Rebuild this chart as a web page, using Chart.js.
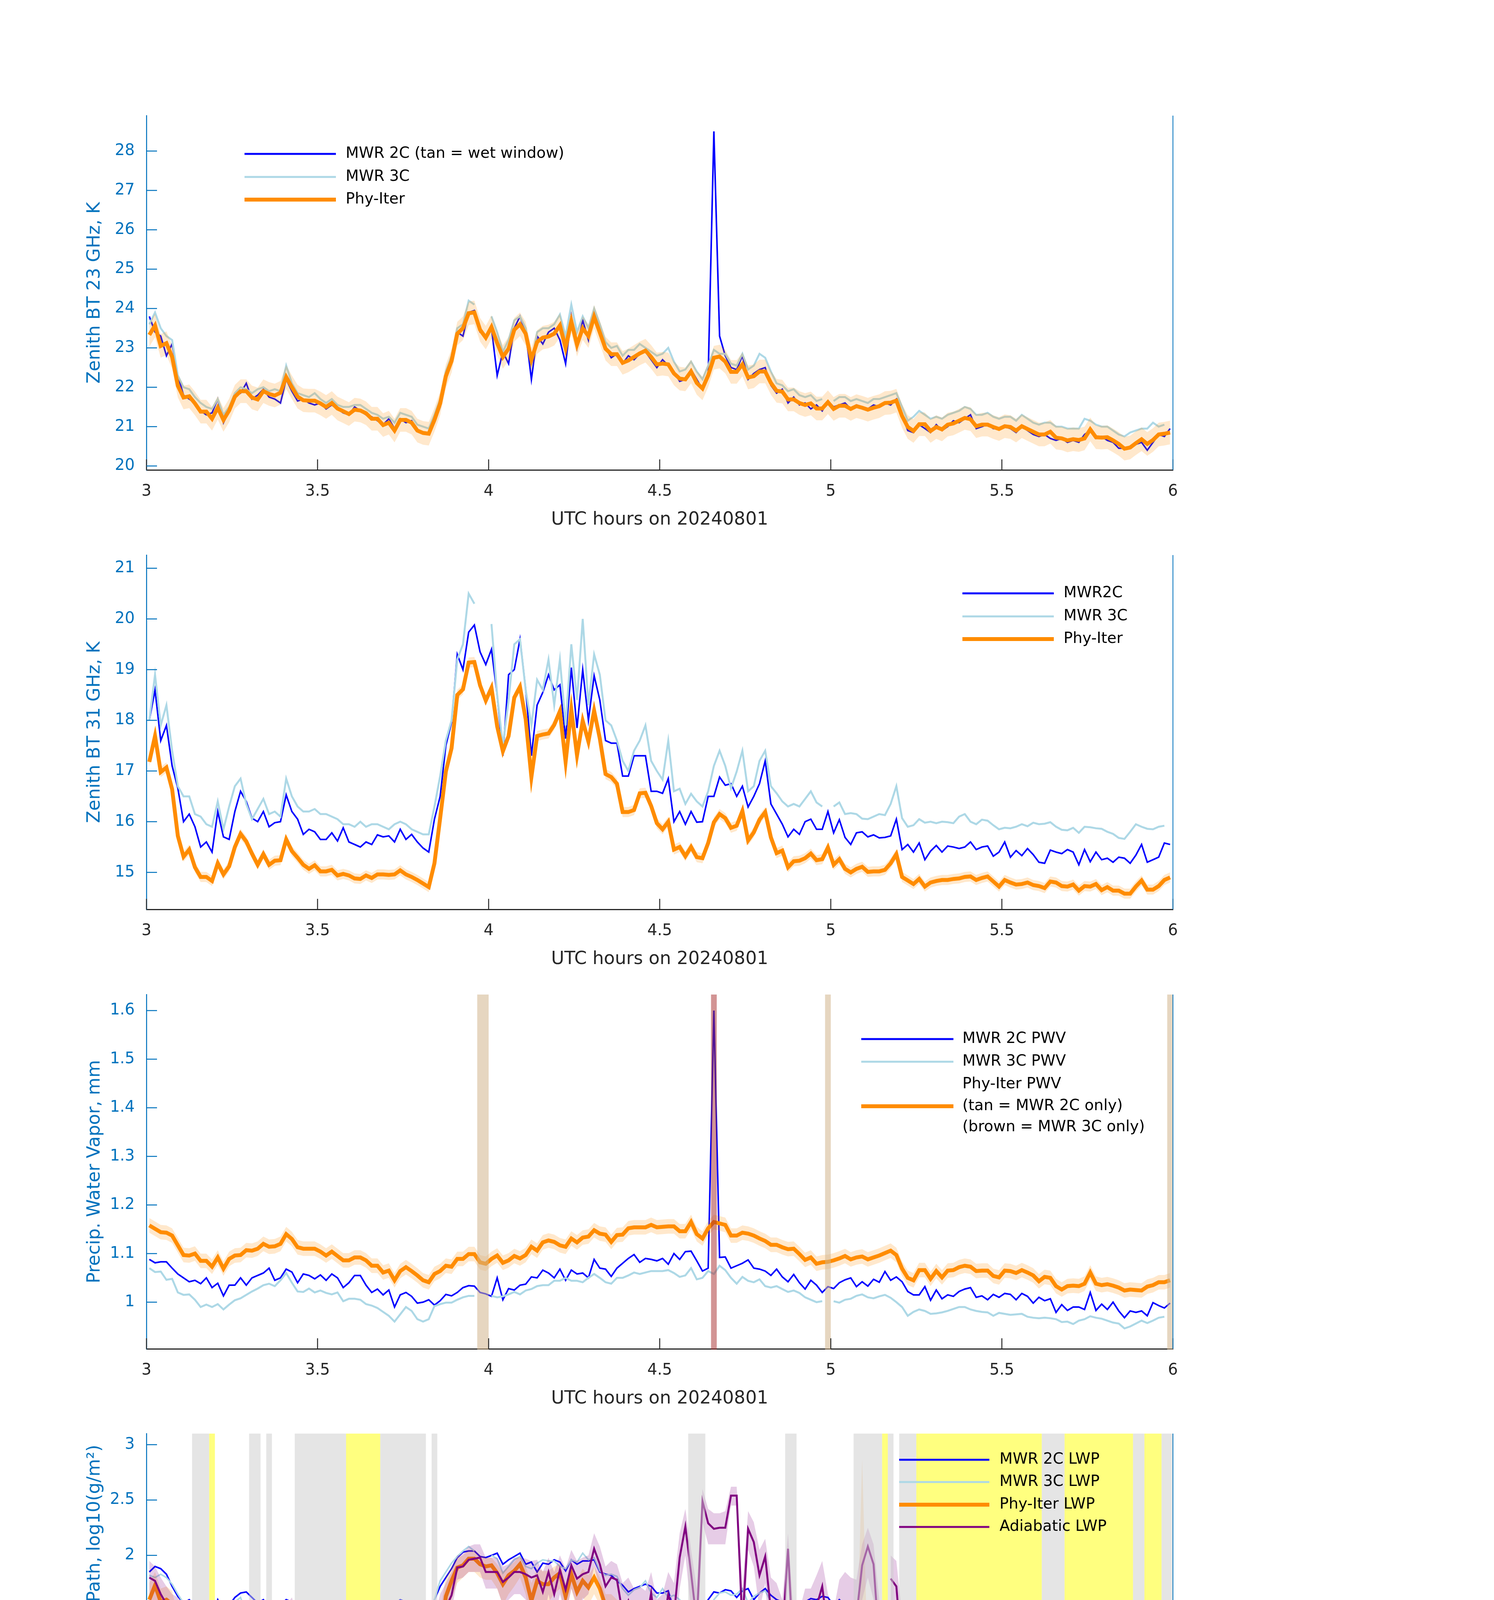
<!DOCTYPE html>
<html>
<head>
<meta charset="utf-8">
<script src="https://cdn.jsdelivr.net/npm/chart.js@4.4.1/dist/chart.umd.min.js"></script>
<style>
  body { margin: 0; background: #fff; width: 3825px; height: 6000px; position: relative; overflow: hidden; }
  canvas { position: absolute; left: 0; }
</style>
</head>
<body>
<canvas id="bt23" width="3825" height="1160" style="top:200px"></canvas>
<canvas id="bt31" width="3825" height="1160" style="top:1325px"></canvas>
<canvas id="pwv" width="3825" height="1160" style="top:2450px"></canvas>
<canvas id="lwp" width="3825" height="1160" style="top:3574px"></canvas>
<canvas id="dq" width="3825" height="1160" style="top:4700px"></canvas>
<script>
// one sample per minute, stamped at the middle of the minute
const minuteTimes = [];
for (let i = 0; i < 180; i++) minuteTimes.push(3 + (i + 0.5) / 60);

const xTickValues = [3, 3.5, 4, 4.5, 5, 5.5, 6];
const xTickLabels = ['3', '3.5', '4', '4.5', '5', '5.5', '6'];

// ---- 23 GHz brightness temperature, K
const bt23Ticks = [20, 21, 22, 23, 24, 25, 26, 27, 28];
const bt23TickLabels = ['20', '21', '22', '23', '24', '25', '26', '27', '28'];
const bt23Unc = 0.3;
const bt23Phy = [23.33,23.57,23.05,23.12,22.77,22.04,21.74,21.77,21.59,21.38,
  21.38,21.2,21.48,21.17,21.41,21.76,21.9,21.9,21.74,21.69,
  21.9,21.83,21.79,21.86,22.26,22.0,21.76,21.67,21.66,21.66,
  21.59,21.5,21.6,21.46,21.39,21.32,21.43,21.41,21.34,21.2,
  21.2,21.04,21.1,20.9,21.17,21.17,21.1,20.9,20.84,20.82,
  21.17,21.59,22.28,22.67,23.36,23.5,23.88,23.9,23.46,23.26,
  23.53,23.12,22.77,22.98,23.46,23.6,23.36,22.7,23.15,23.26,
  23.29,23.36,23.57,23.0,23.67,23.08,23.5,23.3,23.79,23.39,
  22.98,22.84,22.84,22.62,22.68,22.77,22.86,22.93,22.77,22.58,
  22.6,22.58,22.35,22.22,22.2,22.4,22.11,21.97,22.3,22.75,
  22.78,22.65,22.39,22.39,22.58,22.25,22.28,22.4,22.4,22.11,
  21.91,21.89,21.69,21.69,21.6,21.55,21.59,21.46,21.46,21.62,
  21.45,21.53,21.53,21.45,21.52,21.48,21.43,21.48,21.52,21.6,
  21.61,21.66,21.27,20.99,20.89,21.06,21.06,20.89,20.99,20.93,
  21.05,21.08,21.15,21.22,21.19,21.01,21.05,21.05,20.99,20.94,
  21.01,20.99,20.9,21.01,20.94,20.87,20.8,20.8,20.87,20.72,
  20.7,20.65,20.68,20.66,20.7,20.93,20.73,20.72,20.73,20.65,
  20.56,20.44,20.47,20.58,20.68,20.56,20.66,20.8,20.82,20.85];
const bt23Mwr2c = [23.8,23.4,23.3,22.8,23.1,22.3,21.8,21.7,21.6,21.4,
  21.3,21.35,21.7,21.1,21.4,21.8,21.85,22.1,21.7,21.8,
  21.95,21.75,21.7,21.6,22.2,21.9,21.65,21.7,21.6,21.55,
  21.6,21.45,21.55,21.45,21.35,21.3,21.5,21.4,21.3,21.25,
  21.15,21.05,21.2,20.95,21.2,21.1,21.15,20.9,20.85,20.85,
  21.1,21.5,22.3,22.6,23.4,23.3,23.9,23.95,23.4,23.3,
  23.5,22.3,22.9,22.6,23.5,23.8,23.4,22.2,23.3,23.1,
  23.4,23.5,23.2,22.6,23.8,23.0,23.7,23.2,23.9,23.6,
  23.0,22.75,22.85,22.6,22.8,22.7,22.85,22.9,22.7,22.5,
  22.7,22.55,22.4,22.15,22.2,22.45,22.2,21.95,22.3,28.5,
  23.3,22.8,22.5,22.45,22.8,22.2,22.35,22.45,22.5,22.05,
  21.85,21.95,21.6,21.75,21.55,21.6,21.45,21.55,21.4,21.65,
  21.5,21.55,21.6,21.45,21.55,21.5,21.45,21.55,21.5,21.6,
  21.55,21.7,21.3,20.9,20.85,21.05,20.95,20.85,21.05,20.9,
  21.0,21.15,21.1,21.2,21.3,20.95,21.0,21.05,20.95,20.95,
  21.0,20.95,20.85,21.0,20.9,20.8,20.75,20.8,20.7,20.65,
  20.7,20.6,20.65,20.6,20.8,20.9,20.7,20.75,20.65,20.6,
  20.45,20.45,20.5,20.55,20.6,20.4,20.6,20.8,20.75,20.95];
const bt23Mwr3c = [23.6,23.9,23.5,23.3,23.2,22.3,22.0,21.95,21.75,21.6,
  21.5,21.45,21.7,21.3,21.5,21.85,22.0,21.95,21.85,21.95,
  22.0,21.9,21.95,21.9,22.55,22.1,21.85,21.8,21.75,21.85,
  21.7,21.6,21.7,21.55,21.5,21.5,21.55,21.55,21.45,21.35,
  21.3,21.2,21.25,21.1,21.35,21.3,21.25,21.05,21.0,20.95,
  21.3,21.7,22.4,22.8,23.5,23.6,24.2,24.1,null,null,
  23.8,23.4,22.9,23.2,23.7,23.8,23.5,22.6,23.4,23.5,
  23.5,23.6,23.85,23.3,24.1,23.4,23.8,23.5,24.0,23.6,
  23.15,23.0,23.05,22.8,22.95,22.95,23.1,23.0,22.9,22.8,
  22.85,23.0,22.65,22.4,22.45,22.65,22.4,22.2,22.55,22.95,
  22.85,22.85,22.6,22.55,22.85,22.45,22.55,22.85,22.75,22.4,
  22.1,22.05,21.9,21.95,21.8,21.75,21.8,21.65,21.7,null,
  21.65,21.75,21.75,21.65,21.7,21.65,21.6,21.7,21.7,21.75,
  21.8,21.85,21.5,21.15,21.25,21.4,21.3,21.2,21.25,21.2,
  21.3,21.35,21.4,21.5,21.45,21.3,21.3,21.35,21.25,21.2,
  21.25,21.25,21.15,21.3,21.2,21.1,21.05,21.1,21.1,21.0,
  21.0,20.95,20.95,20.95,21.2,21.15,21.05,21.0,21.0,20.9,
  20.8,20.75,20.85,20.9,20.95,20.95,21.1,21.0,21.05,null];

// ---- 31 GHz brightness temperature, K
const bt31Ticks = [15, 16, 17, 18, 19, 20, 21];
const bt31TickLabels = ['15', '16', '17', '18', '19', '20', '21'];
const bt31Unc = 0.1;
const bt31Phy = [17.18,17.69,16.98,17.07,16.64,15.72,15.31,15.45,15.1,14.91,
  14.91,14.83,15.18,14.96,15.12,15.5,15.76,15.61,15.37,15.15,
  15.36,15.15,15.23,15.24,15.65,15.42,15.29,15.15,15.07,15.14,
  15.02,15.02,15.05,14.94,14.97,14.94,14.88,14.87,14.94,14.89,
  14.96,14.96,14.95,14.96,15.04,14.96,14.91,14.85,14.78,14.71,
  15.18,16.07,16.99,17.45,18.5,18.61,19.14,19.15,18.69,18.39,
  18.64,17.88,17.39,17.69,18.45,18.66,18.02,16.88,17.69,17.72,
  17.74,17.91,18.18,17.18,18.21,17.31,17.99,17.58,18.19,17.64,
  16.94,16.88,16.75,16.19,16.19,16.23,16.56,16.57,16.31,15.97,
  15.85,16.0,15.45,15.5,15.32,15.5,15.3,15.28,15.58,15.99,
  16.15,16.07,15.88,15.92,16.21,15.63,15.79,16.04,16.19,15.69,
  15.38,15.43,15.1,15.22,15.23,15.28,15.37,15.24,15.26,15.49,
  15.15,15.26,15.07,15.0,15.07,15.11,15.01,15.02,15.02,15.05,
  15.18,15.36,14.91,14.84,14.77,14.87,14.72,14.8,14.83,14.85,
  14.85,14.87,14.88,14.91,14.92,14.85,14.89,14.92,14.82,14.72,
  14.85,14.8,14.76,14.77,14.8,14.75,14.73,14.69,14.82,14.8,
  14.73,14.72,14.76,14.64,14.73,14.72,14.77,14.65,14.71,14.64,
  14.64,14.58,14.58,14.72,14.84,14.66,14.66,14.73,14.85,14.9];
const bt31Mwr2c = [18.0,18.6,17.6,17.9,17.1,16.66,16.0,16.15,15.9,15.5,
  15.6,15.4,16.2,15.7,15.65,16.2,16.6,16.4,16.07,16.0,
  16.2,15.9,15.98,16.0,16.53,16.2,16.05,15.75,15.85,15.8,
  15.65,15.65,15.78,15.62,15.88,15.6,15.55,15.5,15.6,15.55,
  15.74,15.7,15.72,15.6,15.85,15.65,15.75,15.6,15.48,15.4,
  16.05,16.5,17.5,17.96,19.3,19.0,19.74,19.88,19.35,19.1,
  19.4,18.5,17.3,18.9,19.0,19.6,18.61,17.3,18.3,18.55,
  18.9,18.6,18.7,17.64,19.04,17.85,19.0,18.0,18.88,18.4,
  17.6,17.55,17.55,16.9,16.9,17.3,17.3,17.3,16.6,16.6,
  16.56,16.85,16.0,16.2,15.95,16.2,15.99,16.0,16.5,16.5,
  16.88,16.72,16.75,16.5,16.7,16.29,16.5,16.75,17.2,16.35,
  16.15,15.95,15.7,15.85,15.75,16.0,16.05,15.85,15.85,16.2,
  15.78,16.04,15.69,15.55,15.78,15.8,15.7,15.74,15.68,15.69,
  15.72,16.05,15.45,15.55,15.4,15.58,15.25,15.42,15.53,15.4,
  15.52,15.5,15.47,15.5,15.6,15.45,15.5,15.52,15.32,15.4,
  15.6,15.3,15.43,15.33,15.47,15.35,15.2,15.18,15.44,15.4,
  15.37,15.45,15.4,15.15,15.45,15.21,15.4,15.25,15.28,15.2,
  15.3,15.28,15.18,15.34,15.55,15.2,15.25,15.3,15.58,15.55];
const bt31Mwr3c = [18.0,18.9,17.9,18.3,17.4,16.7,16.5,16.5,16.15,16.1,
  15.95,15.9,16.4,15.85,16.3,16.7,16.85,16.35,16.05,16.25,
  16.45,16.15,16.2,16.1,16.85,16.5,16.3,16.2,16.2,16.25,
  16.15,16.15,16.1,16.05,15.95,15.95,15.9,16.0,15.9,15.95,
  15.95,15.9,15.85,15.95,16.0,15.95,15.85,15.8,15.75,15.75,
  16.3,16.9,17.6,18.0,19.2,19.5,20.5,20.3,null,null,
  19.9,18.5,17.5,18.4,19.5,19.6,18.6,17.9,18.8,18.6,
  19.2,18.3,19.2,17.9,19.5,18.4,20.0,18.3,19.3,18.9,
  18.0,17.9,17.6,17.2,17.0,17.4,17.6,17.9,17.2,17.0,
  16.83,17.6,16.6,16.65,16.35,16.55,16.4,16.3,16.6,17.1,
  17.4,17.1,16.66,16.99,17.4,16.6,16.7,17.2,17.4,16.7,
  16.56,16.4,16.3,16.35,16.3,16.45,16.6,16.38,16.3,null,
  16.3,16.38,16.15,16.17,16.15,16.06,16.05,16.1,16.15,16.13,
  16.35,16.7,16.07,15.9,15.93,16.05,15.98,16.0,15.97,16.0,
  15.99,15.97,16.1,16.15,16.0,15.95,16.04,16.02,15.93,15.85,
  15.88,15.87,15.9,15.95,15.91,15.98,15.95,15.96,15.99,15.9,
  15.84,15.83,15.88,15.78,15.9,15.89,15.87,15.86,15.8,15.76,
  15.68,15.66,15.8,15.95,15.9,15.86,15.85,15.9,15.92,null];

// ---- precipitable water vapour, mm
const pwvTicks = [1, 1.1, 1.2, 1.3, 1.4, 1.5, 1.6];
const pwvTickLabels = ['1', '1.1', '1.2', '1.3', '1.4', '1.5', '1.6'];
const pwvUnc = 0.015;
const pwvTanStart = [3.9667, 4.9833, 5.9833];
const pwvTanEnd = [4.0, 5.0, 6.0];
const pwvBrownStart = [4.65];
const pwvBrownEnd = [4.6667];
const pwvPhy = [1.158,1.151,1.144,1.143,1.137,1.117,1.097,1.096,1.1,1.085,
  1.085,1.073,1.092,1.069,1.089,1.096,1.097,1.107,1.106,1.11,
  1.12,1.114,1.115,1.12,1.14,1.13,1.113,1.11,1.11,1.11,
  1.104,1.096,1.104,1.095,1.086,1.086,1.092,1.092,1.086,1.075,
  1.075,1.061,1.065,1.045,1.064,1.072,1.064,1.055,1.045,1.041,
  1.058,1.064,1.075,1.073,1.089,1.089,1.099,1.099,1.082,1.079,
  1.089,1.096,1.081,1.086,1.095,1.09,1.097,1.114,1.106,1.123,
  1.127,1.124,1.117,1.114,1.131,1.123,1.133,1.135,1.148,1.141,
  1.139,1.124,1.138,1.139,1.152,1.154,1.154,1.154,1.159,1.154,
  1.155,1.156,1.156,1.146,1.146,1.165,1.14,1.131,1.152,1.165,
  1.162,1.159,1.137,1.137,1.143,1.141,1.137,1.131,1.126,1.118,
  1.118,1.113,1.109,1.11,1.099,1.087,1.092,1.079,1.082,1.083,
  1.086,1.09,1.095,1.088,1.092,1.094,1.088,1.092,1.096,1.101,
  1.106,1.097,1.069,1.05,1.045,1.066,1.066,1.048,1.064,1.051,
  1.065,1.066,1.072,1.075,1.073,1.064,1.065,1.065,1.054,1.051,
  1.065,1.064,1.06,1.066,1.061,1.055,1.043,1.052,1.05,1.033,
  1.026,1.033,1.034,1.033,1.038,1.061,1.038,1.035,1.037,1.034,
  1.03,1.024,1.026,1.025,1.024,1.032,1.035,1.041,1.041,1.045];
const pwvMwr2c = [1.088,1.081,1.083,1.083,1.07,1.058,1.05,1.042,1.045,1.038,
  1.05,1.03,1.039,1.013,1.035,1.035,1.05,1.035,1.05,1.055,
  1.06,1.07,1.045,1.05,1.068,1.062,1.04,1.058,1.055,1.048,
  1.056,1.045,1.058,1.05,1.03,1.04,1.055,1.055,1.035,1.02,
  1.027,1.015,1.025,0.99,1.015,1.02,1.012,0.998,1.0,1.005,
  0.994,1.003,1.016,1.013,1.02,1.03,1.034,1.033,1.02,1.017,
  1.012,1.05,1.005,1.028,1.025,1.035,1.037,1.052,1.05,1.066,
  1.06,1.05,1.068,1.045,1.066,1.058,1.06,1.05,1.088,1.07,
  1.068,1.053,1.07,1.08,1.09,1.098,1.082,1.09,1.088,1.085,
  1.09,1.078,1.1,1.088,1.104,1.105,1.085,1.064,1.07,1.6,
  1.092,1.093,1.07,1.075,1.08,1.087,1.07,1.068,1.064,1.055,
  1.068,1.052,1.042,1.057,1.04,1.027,1.045,1.035,1.02,1.032,
  1.028,1.04,1.046,1.05,1.032,1.042,1.033,1.047,1.041,1.063,
  1.045,1.052,1.042,1.022,1.015,1.015,1.032,1.004,1.025,1.007,
  1.015,1.012,1.022,1.027,1.03,1.01,1.013,1.005,1.016,1.01,
  1.018,1.016,1.005,1.018,1.012,0.998,1.01,1.003,1.007,0.979,
  0.995,0.983,0.99,0.99,0.985,1.02,0.983,0.996,0.985,1.0,
  0.982,0.968,0.982,0.979,0.982,0.972,0.999,0.993,0.988,0.998];
const pwvMwr3c = [1.07,1.062,1.063,1.046,1.048,1.02,1.015,1.016,1.005,0.99,
  0.995,0.99,0.996,0.985,0.995,1.004,1.008,1.015,1.022,1.028,
  1.035,1.038,1.033,1.045,1.06,1.04,1.022,1.021,1.028,1.02,
  1.024,1.019,1.016,1.02,1.002,1.007,1.007,1.005,0.996,0.993,
  0.988,0.98,0.972,0.96,0.975,0.99,0.982,0.965,0.96,0.965,
  0.992,0.996,0.999,0.999,1.005,1.01,1.013,1.013,null,null,
  1.013,1.01,1.012,1.016,1.021,1.016,1.024,1.027,1.033,1.035,
  1.035,1.044,1.044,1.05,1.044,1.044,1.041,1.05,1.058,1.05,
  1.041,1.038,1.05,1.05,1.055,1.061,1.058,1.061,1.064,1.064,
  1.064,1.066,1.06,1.052,1.055,1.07,1.047,1.05,1.064,1.058,
  1.075,1.066,1.05,1.038,1.052,1.044,1.041,1.047,1.033,1.03,
  1.033,1.027,1.021,1.024,1.019,1.01,1.005,1.0,1.002,null,
  1.002,0.999,1.005,1.007,1.013,1.016,1.01,1.008,1.012,1.015,
  1.009,1.0,0.99,0.972,0.98,0.985,0.982,0.976,0.977,0.979,
  0.982,0.986,0.99,0.99,0.985,0.982,0.98,0.979,0.972,0.978,
  0.976,0.974,0.975,0.976,0.97,0.968,0.967,0.968,0.967,0.965,
  0.959,0.96,0.955,0.962,0.965,0.971,0.968,0.966,0.962,0.958,
  0.956,0.946,0.95,0.956,0.962,0.957,0.962,0.968,0.97,null];

// ---- liquid water path, log10(g/m2); -4 marks zero LWP (log goes off the axis)
const lwpTicks = [0, 0.5, 1, 1.5, 2, 2.5, 3];
const lwpTickLabels = ['0', '0.5', '1', '1.5', '2', '2.5', '3'];
const lwpMwr2c = [1.85,1.9,1.88,1.83,1.72,1.63,1.57,1.6,1.55,1.46,
  1.47,1.45,1.6,1.5,1.55,1.62,1.66,1.67,1.62,1.57,
  1.6,1.53,1.55,1.55,1.6,1.58,1.58,1.5,1.51,1.5,
  1.52,1.47,1.53,1.47,1.5,1.56,1.5,1.47,1.52,1.52,
  1.53,1.56,1.57,1.56,1.6,1.58,1.57,1.55,1.51,1.49,
  1.6,1.72,1.8,1.88,1.98,2.03,2.04,2.04,1.99,1.98,
  2.0,2.02,1.92,1.96,1.99,2.02,1.92,1.94,1.85,1.93,
  1.92,1.96,1.94,1.86,1.96,1.92,1.95,1.95,1.96,1.85,
  1.83,1.82,1.77,1.73,1.67,1.7,1.72,1.74,1.72,1.66,
  1.66,1.68,1.5,1.57,1.52,1.52,1.53,1.53,1.6,1.67,
  1.66,1.69,1.68,1.62,1.68,1.7,1.6,1.66,1.7,1.64,
  1.6,1.58,1.58,1.55,1.58,1.58,1.61,1.6,1.63,1.62,
  1.55,1.6,1.55,1.45,1.53,1.55,1.5,1.48,1.52,1.49,
  1.52,1.58,1.48,1.47,1.47,1.52,1.42,1.49,1.5,1.52,
  1.49,1.5,1.5,1.47,1.51,1.5,1.51,1.52,1.47,1.47,
  1.5,1.53,1.44,1.49,1.47,1.47,1.5,1.41,1.46,1.53,
  1.5,1.52,1.54,1.42,1.53,1.48,1.45,1.5,1.51,1.5,
  1.49,1.5,1.48,1.56,1.5,1.48,1.46,1.47,1.55,1.52];
const lwpMwr3c = [1.82,1.8,1.83,1.8,1.74,1.65,1.57,1.52,1.46,1.4,
  1.38,1.35,1.39,1.38,1.45,1.58,1.62,1.47,1.4,1.45,
  1.5,1.45,1.39,1.41,1.48,1.42,1.43,1.39,1.38,1.4,
  1.38,1.35,1.38,1.34,1.37,1.33,1.34,1.34,1.35,1.37,
  1.39,1.37,1.4,1.37,1.39,1.35,1.36,1.35,1.35,1.38,
  1.6,1.77,1.85,1.93,1.99,2.04,2.08,2.04,null,null,
  2.0,1.97,1.84,1.9,1.96,1.99,1.9,1.88,1.93,1.96,
  1.95,1.95,1.9,1.88,1.96,1.94,2.02,1.96,1.98,1.86,
  1.82,1.83,1.81,1.7,1.64,1.69,1.71,1.77,1.66,1.62,
  1.7,1.62,1.64,1.6,1.54,1.48,1.46,1.46,1.5,1.6,
  1.66,1.67,1.64,1.65,1.7,1.57,1.63,1.66,1.68,1.58,
  1.5,1.47,1.4,1.43,1.45,1.48,1.47,1.46,1.44,null,
  1.42,1.44,1.4,1.39,1.4,1.41,1.39,1.38,1.39,1.4,
  1.45,1.46,1.37,1.38,1.37,1.38,1.39,1.38,1.39,1.38,
  1.39,1.37,1.38,1.41,1.38,1.37,1.38,1.37,1.35,1.37,
  1.34,1.36,1.37,1.36,1.38,1.37,1.4,1.39,1.38,1.39,
  1.38,1.37,1.39,1.35,1.38,1.33,1.36,1.35,1.36,1.34,
  1.33,1.32,1.34,1.36,1.39,1.38,1.37,1.38,1.39,null];
const lwpPhy = [1.6,1.73,1.58,1.6,1.56,1.08,0.69,0.92,-4,null,
  null,null,0.4,-4,0.23,0.92,1.18,1.01,0.72,-4,
  0.42,-4,-4,-4,0.86,0.53,0.44,-4,null,null,
  null,null,null,null,null,null,null,null,null,null,
  null,0.23,-4,0.6,0.48,null,null,null,null,-4,
  0.87,1.22,1.63,1.77,1.89,1.91,1.97,1.97,1.92,1.9,
  1.91,1.84,1.74,1.82,1.86,1.92,1.8,1.59,1.77,1.74,
  1.74,1.8,1.84,1.63,1.83,1.67,1.77,1.71,1.8,1.7,
  1.54,1.54,1.46,1.25,1.2,1.25,1.37,1.38,1.27,1.06,
  1.0,0.99,-4,0.43,0.1,-4,null,-4,0.59,1.05,
  1.2,1.14,1.06,1.11,1.28,0.73,1.01,1.25,1.31,1.07,
  0.49,0.72,-4,-4,0.41,0.72,0.75,0.7,0.69,1.01,
  0.43,0.57,-4,null,null,null,null,null,null,null,
  null,0.7,-4,null,null,null,null,null,null,null,
  null,null,null,null,null,null,null,null,null,null,
  null,null,null,null,null,null,null,0.21,0.65,0.89,
  0.83,null,null,null,null,null,null,null,null,null,
  null,null,null,0.79,0.93,null,null,null,0.66,0.74];
const lwpPhyLo = [1.5,1.6,1.45,1.45,1.35,-0.5,-0.5,-0.5,-0.5,null,
  null,null,-0.5,-0.5,-0.5,-0.5,0.5,0.3,-0.5,-0.5,
  -0.5,-0.5,-0.5,-0.5,0.2,-0.5,-0.5,-0.5,null,null,
  null,null,null,null,null,null,null,null,null,null,
  null,-0.5,-0.5,-0.5,-0.5,null,-0.5,-0.5,-0.5,-0.5,
  -0.5,0.5,1.3,1.6,1.75,1.8,1.85,1.85,1.8,1.78,
  1.78,1.7,1.55,1.65,1.72,1.8,1.65,1.35,1.6,1.58,
  1.58,1.65,1.7,1.45,1.7,1.5,1.62,1.55,1.65,1.55,
  1.3,1.3,1.15,0.85,0.8,0.85,1.1,1.1,0.9,0.2,
  0.2,0.15,-0.5,-0.5,-0.5,-0.5,null,-0.5,-0.5,0.3,
  0.6,0.5,0.3,0.4,0.6,-0.5,0.2,0.6,0.7,0.2,
  -0.5,-0.5,-0.5,-0.5,-0.5,-0.5,-0.5,-0.5,-0.5,0.1,
  -0.5,-0.5,-0.5,-0.5,-0.5,-0.5,-0.5,-0.5,-0.5,-0.5,
  -0.5,-0.5,-0.5,-0.5,-0.5,null,null,null,null,null,
  null,null,null,null,null,null,null,null,null,null,
  null,null,null,null,null,null,null,-0.5,-0.5,-0.5,
  -0.5,null,null,null,null,null,null,null,null,null,
  null,null,null,-0.5,-0.5,null,null,null,-0.5,-0.5];
const lwpPhyHi = [1.75,1.85,1.7,1.72,1.68,1.45,1.2,1.3,1.0,null,
  null,null,0.9,0.6,0.8,1.3,1.42,1.35,1.2,0.8,
  1.0,0.8,0.9,1.0,1.2,1.05,0.95,0.5,null,null,
  null,null,null,null,null,null,null,null,null,null,
  null,0.6,0.5,0.95,0.9,null,0.5,0.5,0.5,0.6,
  1.2,1.5,1.8,1.9,1.98,2.0,2.05,2.05,2.0,1.98,
  1.98,1.92,1.85,1.9,1.94,2.0,1.9,1.75,1.88,1.86,
  1.86,1.9,1.92,1.75,1.92,1.78,1.88,1.82,1.9,1.8,
  1.65,1.65,1.6,1.45,1.4,1.45,1.55,1.55,1.45,1.3,
  1.35,1.3,1.2,1.05,0.9,0.8,null,0.8,1.2,1.35,
  1.45,1.4,1.35,1.4,1.5,1.2,1.35,1.5,1.55,1.35,
  1.0,1.1,0.7,0.6,0.9,1.1,1.15,1.1,1.1,1.4,
  0.95,1.0,1.0,0.95,1.0,2.87,1.0,0.95,0.95,0.95,
  1.0,1.2,0.8,0.9,0.9,null,null,null,null,null,
  null,null,null,null,null,null,null,null,null,null,
  null,null,null,null,null,null,null,0.7,1.0,1.2,
  1.15,null,null,null,null,null,null,null,null,null,
  null,null,null,1.1,1.2,null,null,null,1.0,1.1];
const lwpAdiab = [1.8,1.77,1.65,1.56,1.49,1.48,1.3,1.27,1.05,1.05,
  1.05,null,1.24,1.18,1.24,1.18,1.3,1.43,1.05,1.05,
  1.25,1.05,1.19,1.4,1.34,1.43,1.05,1.05,null,null,
  null,null,null,null,null,null,null,null,null,null,
  null,1.09,1.09,1.08,1.06,null,1.06,1.06,1.06,1.35,
  1.08,1.41,1.53,1.64,1.89,1.9,1.96,1.97,1.98,1.85,
  1.85,1.85,1.76,1.8,1.85,1.85,1.83,1.8,1.82,1.67,
  1.85,1.65,1.87,1.69,1.91,1.79,1.83,1.85,2.06,1.92,
  1.72,1.8,1.78,1.47,1.59,1.41,1.41,1.35,1.66,1.25,
  1.33,1.65,1.46,1.98,2.26,1.84,1.39,2.49,2.29,2.24,
  2.25,2.25,2.54,2.54,1.38,2.24,2.12,1.82,1.99,1.5,
  1.45,1.26,2.06,1.07,1.13,1.37,1.37,1.54,1.72,1.31,
  1.12,1.47,1.56,1.48,1.45,1.91,2.08,1.92,1.2,null,
  1.79,1.72,1.09,1.09,1.09,null,null,null,null,null,
  null,null,null,null,null,null,null,null,null,null,
  null,null,null,null,null,null,null,1.09,1.09,1.1,
  1.1,null,null,null,null,null,null,null,null,null,
  null,null,null,1.09,1.09,null,null,null,1.09,1.09];
const lwpAdiabLo = [1.45,1.4,1.3,1.2,1.05,0.9,0.7,0.6,0.45,0.45,
  0.45,null,0.8,0.75,0.8,0.75,0.85,0.95,0.45,0.45,
  0.8,0.45,0.75,0.95,0.9,0.95,0.45,0.45,null,null,
  null,null,null,null,null,null,null,null,null,null,
  null,0.5,0.5,0.5,0.5,null,0.45,0.45,0.45,0.9,
  0.7,1.1,1.3,1.5,1.78,1.8,1.85,1.85,1.85,1.7,
  1.7,1.7,1.55,1.6,1.65,1.65,1.6,1.55,1.6,1.4,
  1.65,1.4,1.65,1.45,1.7,1.55,1.6,1.65,1.9,1.7,
  1.45,1.55,1.5,1.1,1.25,1.0,1.0,0.95,1.3,0.85,
  0.95,1.3,1.1,1.7,2.0,1.5,1.0,2.3,2.1,2.1,
  2.1,2.1,2.45,2.45,1.0,2.05,1.9,1.5,1.75,1.1,
  1.05,0.9,1.8,0.65,0.7,1.0,1.0,1.2,1.4,0.9,
  0.7,1.1,1.2,1.1,1.05,1.6,1.8,1.6,0.8,null,
  1.4,1.3,0.45,0.45,0.45,null,null,null,null,null,
  null,null,null,null,null,null,null,null,null,null,
  null,null,null,null,null,null,null,0.45,0.45,0.45,
  0.45,null,null,null,null,null,null,null,null,null,
  null,null,null,0.45,0.45,null,null,null,0.45,0.45];
const lwpAdiabHi = [1.95,1.9,1.8,1.72,1.65,1.62,1.55,1.5,1.45,1.45,
  1.45,null,1.45,1.45,1.5,1.5,1.55,1.6,1.45,1.45,
  1.5,1.45,1.5,1.6,1.55,1.62,1.45,1.45,null,null,
  null,null,null,null,null,null,null,null,null,null,
  null,1.45,1.45,1.45,1.45,null,1.4,1.4,1.4,1.6,
  1.45,1.65,1.75,1.85,2.0,2.02,2.08,2.1,2.1,1.98,
  1.98,1.98,1.9,1.92,1.98,1.98,1.97,1.95,1.96,1.85,
  1.98,1.85,2.0,1.88,2.05,1.95,1.98,2.0,2.2,2.08,
  1.9,1.95,1.92,1.75,1.8,1.7,1.72,1.68,1.85,1.6,
  1.65,1.85,1.75,2.2,2.42,2.05,1.7,2.6,2.42,2.38,
  2.38,2.4,2.62,2.62,1.7,2.4,2.3,2.05,2.15,1.8,
  1.75,1.6,2.2,1.45,1.5,1.7,1.7,1.82,1.95,1.65,
  1.5,1.78,1.85,1.8,1.78,2.1,2.25,2.1,1.6,null,
  2.0,1.95,1.45,1.45,1.45,null,null,null,null,null,
  null,null,null,null,null,null,null,null,null,null,
  null,null,null,null,null,null,null,1.45,1.45,1.45,
  1.45,null,null,null,null,null,null,null,null,null,
  null,null,null,1.45,1.45,null,null,null,1.45,1.45];
const adiabMarkTimes = [3.575];
const adiabMarkValues = [1.05];

// ---- Phy-Iter data quality flag (also drives the grey / yellow shading of the LWP panel)
const dqTicks = [0, 2, 4, 6, 8, 10];
const dqTickLabels = ['0', '2', '4', '6', '8', '10'];
const dqFlag = [0,0,0,0,0,0,0,0,4,4,
  4,5,0,0,0,0,0,0,4,4,
  0,4,0,0,0,0,4,4,3,3,
  3,3,3,3,4,5,5,5,5,5,
  5,4,4,4,4,4,4,4,4,0,
  4,0,0,0,0,0,0,0,0,0,
  0,0,0,0,0,0,0,0,0,0,
  0,0,0,0,0,0,0,0,0,0,
  0,0,0,0,0,0,0,0,0,0,
  0,0,0,0,0,4,4,3,0,0,
  0,0,0,0,0,0,0,0,0,0,
  0,0,3,4,0,0,0,0,0,0,
  0,0,0,0,3,3,3,3,3,5,
  4,0,4,4,4,5,5,5,5,5,
  5,5,5,5,5,5,5,5,5,5,
  5,5,5,5,5,5,5,4,4,4,
  3,5,5,5,5,5,5,5,5,5,
  5,5,5,4,4,5,5,5,4,4];

const BLUE = '#0000FF';
const LIGHTBLUE = '#ADD8E6';
const ORANGE = '#FF8C00';
const PURPLE = '#800080';
const AXBLUE = '#0072BD';
const DARK = '#262626';

Chart.defaults.font.family = "'DejaVu Sans', sans-serif";

function pts(arr) {
    return minuteTimes.map((t, i) => ({ x: t, y: arr[i] }));
}

function lineSet(arr, color, width, order) {
    return { data: pts(arr), borderColor: color, borderWidth: width, pointRadius: 0, fill: false, spanGaps: false, order: order };
}

function bandSets(hi, lo, color, order) {
    return [
        { data: pts(hi), borderColor: 'transparent', borderWidth: 0, pointRadius: 0, fill: '+1', backgroundColor: color, spanGaps: false, order: order },
        { data: pts(lo), borderColor: 'transparent', borderWidth: 0, pointRadius: 0, fill: false, spanGaps: false, order: order }
    ];
}

// inward tick marks and the plain right-hand frame line
const axisDecor = {
    id: 'axisDecor',
    afterDraw(chart) {
        const { ctx, chartArea: a, scales } = chart;
        ctx.save();
        ctx.lineWidth = 2.5;
        ctx.strokeStyle = DARK;
        scales.x.ticks.forEach(t => {
            const px = scales.x.getPixelForValue(t.value);
            ctx.beginPath(); ctx.moveTo(px, a.bottom); ctx.lineTo(px, a.bottom - 27); ctx.stroke();
        });
        ctx.strokeStyle = AXBLUE;
        scales.y.ticks.forEach(t => {
            const py = scales.y.getPixelForValue(t.value);
            ctx.beginPath(); ctx.moveTo(a.left, py); ctx.lineTo(a.left + 27, py); ctx.stroke();
        });
        ctx.lineWidth = 2;
        ctx.beginPath(); ctx.moveTo(a.right, a.top); ctx.lineTo(a.right, a.bottom); ctx.stroke();
        ctx.restore();
    }
};

// translucent vertical shading drawn over the data
const shade = {
    id: 'shade',
    afterDatasetsDraw(chart, args, opts) {
        if (!opts.spans) return;
        const { ctx, chartArea: a, scales: { x } } = chart;
        ctx.save();
        ctx.beginPath(); ctx.rect(a.left, a.top, a.right - a.left, a.bottom - a.top + 2); ctx.clip();
        opts.spans.forEach(s => {
            const x0 = x.getPixelForValue(s.from);
            const x1 = x.getPixelForValue(s.to);
            ctx.fillStyle = s.color;
            ctx.fillRect(x0, a.top, x1 - x0, a.bottom - a.top + 2);
        });
        ctx.restore();
    }
};

// matlab style legend: no box, short line samples
const boxlessLegend = {
    id: 'boxlessLegend',
    afterDraw(chart, args, opts) {
        if (!opts.rows) return;
        const ctx = chart.ctx;
        ctx.save();
        ctx.font = "39px 'DejaVu Sans'";
        ctx.textBaseline = 'middle';
        ctx.textAlign = 'left';
        opts.rows.forEach(r => {
            if (r.color) {
                ctx.strokeStyle = r.color;
                ctx.lineWidth = r.width;
                ctx.beginPath(); ctx.moveTo(opts.x1, r.y); ctx.lineTo(opts.x2, r.y); ctx.stroke();
            }
            ctx.fillStyle = '#000';
            ctx.fillText(r.text, opts.tx, r.y);
        });
        ctx.restore();
    }
};

function panelOptions(yMin, yMax, yTicks, yLabels, yTitle) {
    return {
        responsive: false,
        animation: false,
        devicePixelRatio: 1,
        layout: { padding: { left: 0, right: 822, top: 96, bottom: 0 } },
        elements: { line: { tension: 0 } },
        plugins: { legend: { display: false }, tooltip: { enabled: false } },
        scales: {
            x: {
                type: 'linear', min: 3, max: 6,
                afterBuildTicks: s => { s.ticks = xTickValues.map(v => ({ value: v })); },
                afterFit: s => { s.height = 157; },
                grid: { display: false, drawTicks: false },
                border: { display: true, color: DARK, width: 3 },
                ticks: { color: DARK, font: { size: 40 }, padding: 32, maxRotation: 0, autoSkip: false,
                    callback: (v, i) => xTickLabels[i] },
                title: { display: true, text: 'UTC hours on 20240801', color: DARK, font: { size: 46 }, padding: { top: 0, bottom: 1 } }
            },
            y: {
                min: yMin, max: yMax,
                afterBuildTicks: s => { s.ticks = yTicks.map(v => ({ value: v })); },
                afterFit: s => { s.width = 375; },
                grid: { display: false, drawTicks: false },
                border: { display: true, color: AXBLUE, width: 2.5 },
                ticks: { color: AXBLUE, font: { size: 40 }, padding: 30, autoSkip: false,
                    callback: (v, i) => yLabels[i] },
                title: { display: true, text: yTitle, color: AXBLUE, font: { size: 46 }, padding: { top: 215, bottom: 0 } }
            }
        }
    };
}

// ---- panel 1
let opt1 = panelOptions(19.9, 28.9, bt23Ticks, bt23TickLabels, 'Zenith BT 23 GHz, K');
opt1.plugins.boxlessLegend = { x1: 626, x2: 860, tx: 885, rows: [
    { y: 194, text: 'MWR 2C (tan = wet window)', color: BLUE, width: 5 },
    { y: 253, text: 'MWR 3C', color: LIGHTBLUE, width: 5 },
    { y: 311, text: 'Phy-Iter', color: ORANGE, width: 10 }
] };
new Chart(document.getElementById('bt23'), {
    type: 'line',
    data: { datasets: [
        lineSet(bt23Phy, ORANGE, 10, 0),
        ...bandSets(bt23Phy.map(v => v + bt23Unc), bt23Phy.map(v => v - bt23Unc), 'rgba(255,140,0,0.2)', 1),
        lineSet(bt23Mwr3c, LIGHTBLUE, 5, 2),
        lineSet(bt23Mwr2c, BLUE, 4, 3)
    ] },
    options: opt1,
    plugins: [axisDecor, boxlessLegend]
});

// ---- panel 2
let opt2 = panelOptions(14.27, 21.26, bt31Ticks, bt31TickLabels, 'Zenith BT 31 GHz, K');
opt2.plugins.boxlessLegend = { x1: 2464, x2: 2698, tx: 2723, rows: [
    { y: 194, text: 'MWR2C', color: BLUE, width: 5 },
    { y: 253, text: 'MWR 3C', color: LIGHTBLUE, width: 5 },
    { y: 311, text: 'Phy-Iter', color: ORANGE, width: 10 }
] };
new Chart(document.getElementById('bt31'), {
    type: 'line',
    data: { datasets: [
        lineSet(bt31Phy, ORANGE, 10, 0),
        ...bandSets(bt31Phy.map(v => v + bt31Unc), bt31Phy.map(v => v - bt31Unc), 'rgba(255,140,0,0.2)', 1),
        lineSet(bt31Mwr3c, LIGHTBLUE, 5, 2),
        lineSet(bt31Mwr2c, BLUE, 4, 3)
    ] },
    options: opt2,
    plugins: [axisDecor, boxlessLegend]
});

// ---- panel 3
let pwvSpans = [];
pwvTanStart.forEach((s, k) => pwvSpans.push({ from: s, to: pwvTanEnd[k], color: 'rgba(210,180,140,0.55)' }));
pwvBrownStart.forEach((s, k) => pwvSpans.push({ from: s, to: pwvBrownEnd[k], color: 'rgba(165,42,42,0.5)' }));
let opt3 = panelOptions(0.904, 1.633, pwvTicks, pwvTickLabels, 'Precip. Water Vapor, mm');
opt3.plugins.shade = { spans: pwvSpans };
opt3.plugins.boxlessLegend = { x1: 2205, x2: 2441, tx: 2464, rows: [
    { y: 210, text: 'MWR 2C PWV', color: BLUE, width: 5 },
    { y: 268, text: 'MWR 3C PWV', color: LIGHTBLUE, width: 5 },
    { y: 326, text: 'Phy-Iter PWV' },
    { y: 382, text: '(tan = MWR 2C only)', color: ORANGE, width: 10 },
    { y: 436, text: '(brown = MWR 3C only)' }
] };
new Chart(document.getElementById('pwv'), {
    type: 'line',
    data: { datasets: [
        lineSet(pwvPhy, ORANGE, 10, 0),
        ...bandSets(pwvPhy.map(v => v + pwvUnc), pwvPhy.map(v => v - pwvUnc), 'rgba(255,140,0,0.2)', 1),
        lineSet(pwvMwr3c, LIGHTBLUE, 5, 2),
        lineSet(pwvMwr2c, BLUE, 4, 3)
    ] },
    options: opt3,
    plugins: [axisDecor, shade, boxlessLegend]
});

// ---- panel 4
function flagColor(f) {
    if (f === 5) return 'rgba(255,255,0,0.5)';
    if (f === 3 || f === 4) return 'rgba(204,204,204,0.5)';
    return null;
}
let lwpSpans = [];
for (let i = 0; i < dqFlag.length; ) {
    const c = flagColor(dqFlag[i]);
    let j = i;
    while (j + 1 < dqFlag.length && flagColor(dqFlag[j + 1]) === c) j++;
    if (c) lwpSpans.push({ from: 3 + i / 60, to: 3 + (j + 1) / 60, color: c });
    i = j + 1;
}
let opt4 = panelOptions(-0.1, 3.1, lwpTicks, lwpTickLabels, 'log10 Liquid Water Path, log10(g/m\u00B2)');
opt4.plugins.shade = { spans: lwpSpans };
opt4.plugins.boxlessLegend = { x1: 2302, x2: 2533, tx: 2559, rows: [
    { y: 163, text: 'MWR 2C LWP', color: BLUE, width: 5 },
    { y: 220, text: 'MWR 3C LWP', color: LIGHTBLUE, width: 5 },
    { y: 278, text: 'Phy-Iter LWP', color: ORANGE, width: 10 },
    { y: 335, text: 'Adiabatic LWP', color: PURPLE, width: 5 }
] };
new Chart(document.getElementById('lwp'), {
    type: 'line',
    data: { datasets: [
        { data: adiabMarkTimes.map((t, k) => ({ x: t, y: adiabMarkValues[k] })), showLine: false,
          pointStyle: 'crossRot', pointRadius: 11, borderColor: PURPLE, borderWidth: 5, order: 0 },
        lineSet(lwpAdiab, PURPLE, 5, 1),
        ...bandSets(lwpAdiabHi, lwpAdiabLo, 'rgba(128,0,128,0.2)', 2),
        lineSet(lwpPhy, ORANGE, 10, 3),
        ...bandSets(lwpPhyHi, lwpPhyLo, 'rgba(255,140,0,0.2)', 4),
        lineSet(lwpMwr3c, LIGHTBLUE, 4, 5),
        lineSet(lwpMwr2c, BLUE, 4, 6)
    ] },
    options: opt4,
    plugins: [axisDecor, shade, boxlessLegend]
});

// ---- panel 5
new Chart(document.getElementById('dq'), {
    type: 'line',
    data: { datasets: [
        { data: pts(dqFlag), showLine: false, pointRadius: 4.5, pointStyle: 'circle',
          backgroundColor: ORANGE, borderColor: ORANGE, borderWidth: 0 }
    ] },
    options: panelOptions(-0.5, 11.5, dqTicks, dqTickLabels, 'MWR Phy Iter DQ Flag'),
    plugins: [axisDecor]
});
</script>
</body>
</html>
